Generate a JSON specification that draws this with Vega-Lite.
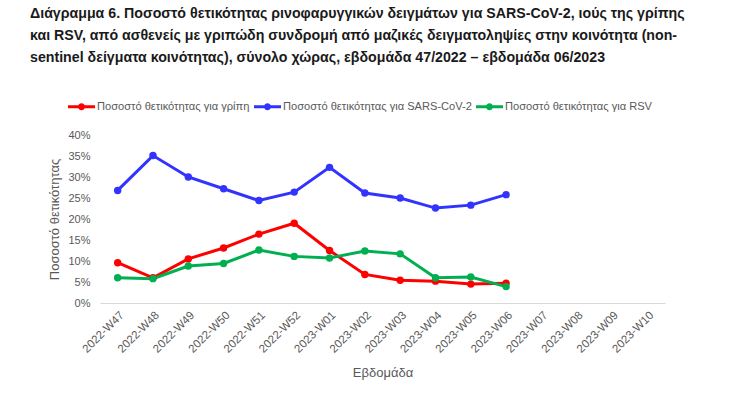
{
  "$schema": "https://vega.github.io/schema/vega-lite/v6.json",
  "width": 565,
  "height": 168,
  "autosize": "none",
  "padding": {"left": 100, "top": 135, "right": 65, "bottom": 92},
  "background": "white",
  "view": {"stroke": null},
  "title": {
    "text": ["Διάγραμμα 6. Ποσοστό θετικότητας ρινοφαρυγγικών δειγμάτων για SARS-CoV-2, ιούς της γρίπης", "και RSV, από ασθενείς με γριπώδη συνδρομή από μαζικές δειγματοληψίες στην κοινότητα (non-", "sentinel δείγματα κοινότητας), σύνολο χώρας, εβδομάδα 47/2022 – εβδομάδα 06/2023"],
    "anchor": "start",
    "frame": "group",
    "dx": -70,
    "offset": 28,
    "font": "Liberation Sans",
    "fontSize": 14.2,
    "fontWeight": "bold",
    "lineHeight": 22,
    "color": "#1a1a1a"
  },
  "data": {
    "values": [
      {"week": "2022-W47", "series": "Ποσοστό θετικότητας για γρίπη", "value": 0.096},
      {"week": "2022-W48", "series": "Ποσοστό θετικότητας για γρίπη", "value": 0.060},
      {"week": "2022-W49", "series": "Ποσοστό θετικότητας για γρίπη", "value": 0.105},
      {"week": "2022-W50", "series": "Ποσοστό θετικότητας για γρίπη", "value": 0.131},
      {"week": "2022-W51", "series": "Ποσοστό θετικότητας για γρίπη", "value": 0.164},
      {"week": "2022-W52", "series": "Ποσοστό θετικότητας για γρίπη", "value": 0.190},
      {"week": "2023-W01", "series": "Ποσοστό θετικότητας για γρίπη", "value": 0.125},
      {"week": "2023-W02", "series": "Ποσοστό θετικότητας για γρίπη", "value": 0.068},
      {"week": "2023-W03", "series": "Ποσοστό θετικότητας για γρίπη", "value": 0.054},
      {"week": "2023-W04", "series": "Ποσοστό θετικότητας για γρίπη", "value": 0.052},
      {"week": "2023-W05", "series": "Ποσοστό θετικότητας για γρίπη", "value": 0.045},
      {"week": "2023-W06", "series": "Ποσοστό θετικότητας για γρίπη", "value": 0.047},
      {"week": "2022-W47", "series": "Ποσοστό θετικότητας για SARS-CoV-2", "value": 0.268},
      {"week": "2022-W48", "series": "Ποσοστό θετικότητας για SARS-CoV-2", "value": 0.351},
      {"week": "2022-W49", "series": "Ποσοστό θετικότητας για SARS-CoV-2", "value": 0.300},
      {"week": "2022-W50", "series": "Ποσοστό θετικότητας για SARS-CoV-2", "value": 0.272},
      {"week": "2022-W51", "series": "Ποσοστό θετικότητας για SARS-CoV-2", "value": 0.244},
      {"week": "2022-W52", "series": "Ποσοστό θετικότητας για SARS-CoV-2", "value": 0.264},
      {"week": "2023-W01", "series": "Ποσοστό θετικότητας για SARS-CoV-2", "value": 0.323},
      {"week": "2023-W02", "series": "Ποσοστό θετικότητας για SARS-CoV-2", "value": 0.262},
      {"week": "2023-W03", "series": "Ποσοστό θετικότητας για SARS-CoV-2", "value": 0.250},
      {"week": "2023-W04", "series": "Ποσοστό θετικότητας για SARS-CoV-2", "value": 0.226},
      {"week": "2023-W05", "series": "Ποσοστό θετικότητας για SARS-CoV-2", "value": 0.233},
      {"week": "2023-W06", "series": "Ποσοστό θετικότητας για SARS-CoV-2", "value": 0.258},
      {"week": "2022-W47", "series": "Ποσοστό θετικότητας για RSV", "value": 0.060},
      {"week": "2022-W48", "series": "Ποσοστό θετικότητας για RSV", "value": 0.058},
      {"week": "2022-W49", "series": "Ποσοστό θετικότητας για RSV", "value": 0.088},
      {"week": "2022-W50", "series": "Ποσοστό θετικότητας για RSV", "value": 0.094},
      {"week": "2022-W51", "series": "Ποσοστό θετικότητας για RSV", "value": 0.126},
      {"week": "2022-W52", "series": "Ποσοστό θετικότητας για RSV", "value": 0.111},
      {"week": "2023-W01", "series": "Ποσοστό θετικότητας για RSV", "value": 0.107},
      {"week": "2023-W02", "series": "Ποσοστό θετικότητας για RSV", "value": 0.124},
      {"week": "2023-W03", "series": "Ποσοστό θετικότητας για RSV", "value": 0.117},
      {"week": "2023-W04", "series": "Ποσοστό θετικότητας για RSV", "value": 0.060},
      {"week": "2023-W05", "series": "Ποσοστό θετικότητας για RSV", "value": 0.062},
      {"week": "2023-W06", "series": "Ποσοστό θετικότητας για RSV", "value": 0.039}
    ]
  },
  "mark": {"type": "line", "strokeWidth": 3, "point": {"filled": true, "size": 55}},
  "encoding": {
    "x": {
      "field": "week",
      "type": "ordinal",
      "sort": null,
      "scale": {"type": "point", "padding": 0.5, "domain": ["2022-W47","2022-W48","2022-W49","2022-W50","2022-W51","2022-W52","2023-W01","2023-W02","2023-W03","2023-W04","2023-W05","2023-W06","2023-W07","2023-W08","2023-W09","2023-W10"]},
      "axis": {
        "title": "Εβδομάδα",
        "titleFont": "Liberation Sans",
        "titleFontSize": 13,
        "titleFontWeight": "normal",
        "titleColor": "#595959",
        "titlePadding": 12,
        "labelAngle": -45,
        "labelFont": "Liberation Sans",
        "labelFontSize": 11.5,
        "labelColor": "#595959",
        "labelPadding": 6,
        "ticks": false,
        "domainColor": "#d9d9d9",
        "grid": false
      }
    },
    "y": {
      "field": "value",
      "type": "quantitative",
      "scale": {"domain": [0, 0.4]},
      "axis": {
        "title": "Ποσοστό θετικότητας",
        "titleFont": "Liberation Sans",
        "titleFontSize": 13,
        "titleFontWeight": "normal",
        "titleColor": "#595959",
        "titlePadding": 6,
        "format": ".0%",
        "values": [0, 0.05, 0.1, 0.15, 0.2, 0.25, 0.3, 0.35, 0.4],
        "labelFont": "Liberation Sans",
        "labelFontSize": 11,
        "labelColor": "#595959",
        "labelPadding": 10,
        "ticks": false,
        "domain": false,
        "grid": false
      }
    },
    "color": {
      "field": "series",
      "type": "nominal",
      "scale": {
        "domain": ["Ποσοστό θετικότητας για γρίπη", "Ποσοστό θετικότητας για SARS-CoV-2", "Ποσοστό θετικότητας για RSV"],
        "range": ["#ff0000", "#3333ff", "#00b050"]
      },
      "legend": {
        "title": null,
        "orient": "none",
        "direction": "horizontal",
        "legendX": -32,
        "legendY": -42,
        "labelFont": "Liberation Sans",
        "labelFontSize": 11.1,
        "labelColor": "#595959",
        "labelLimit": 0,
        "symbolType": "M-1,-0.11H1V0.11H-1Z M-0.26,0A0.26,0.26 0 1,1 0.26,0A0.26,0.26 0 1,1 -0.26,0Z",
        "symbolSize": 729,
        "symbolStrokeWidth": 0,
        "labelOffset": 2,
        "columnPadding": 4
      }
    }
  }
}
